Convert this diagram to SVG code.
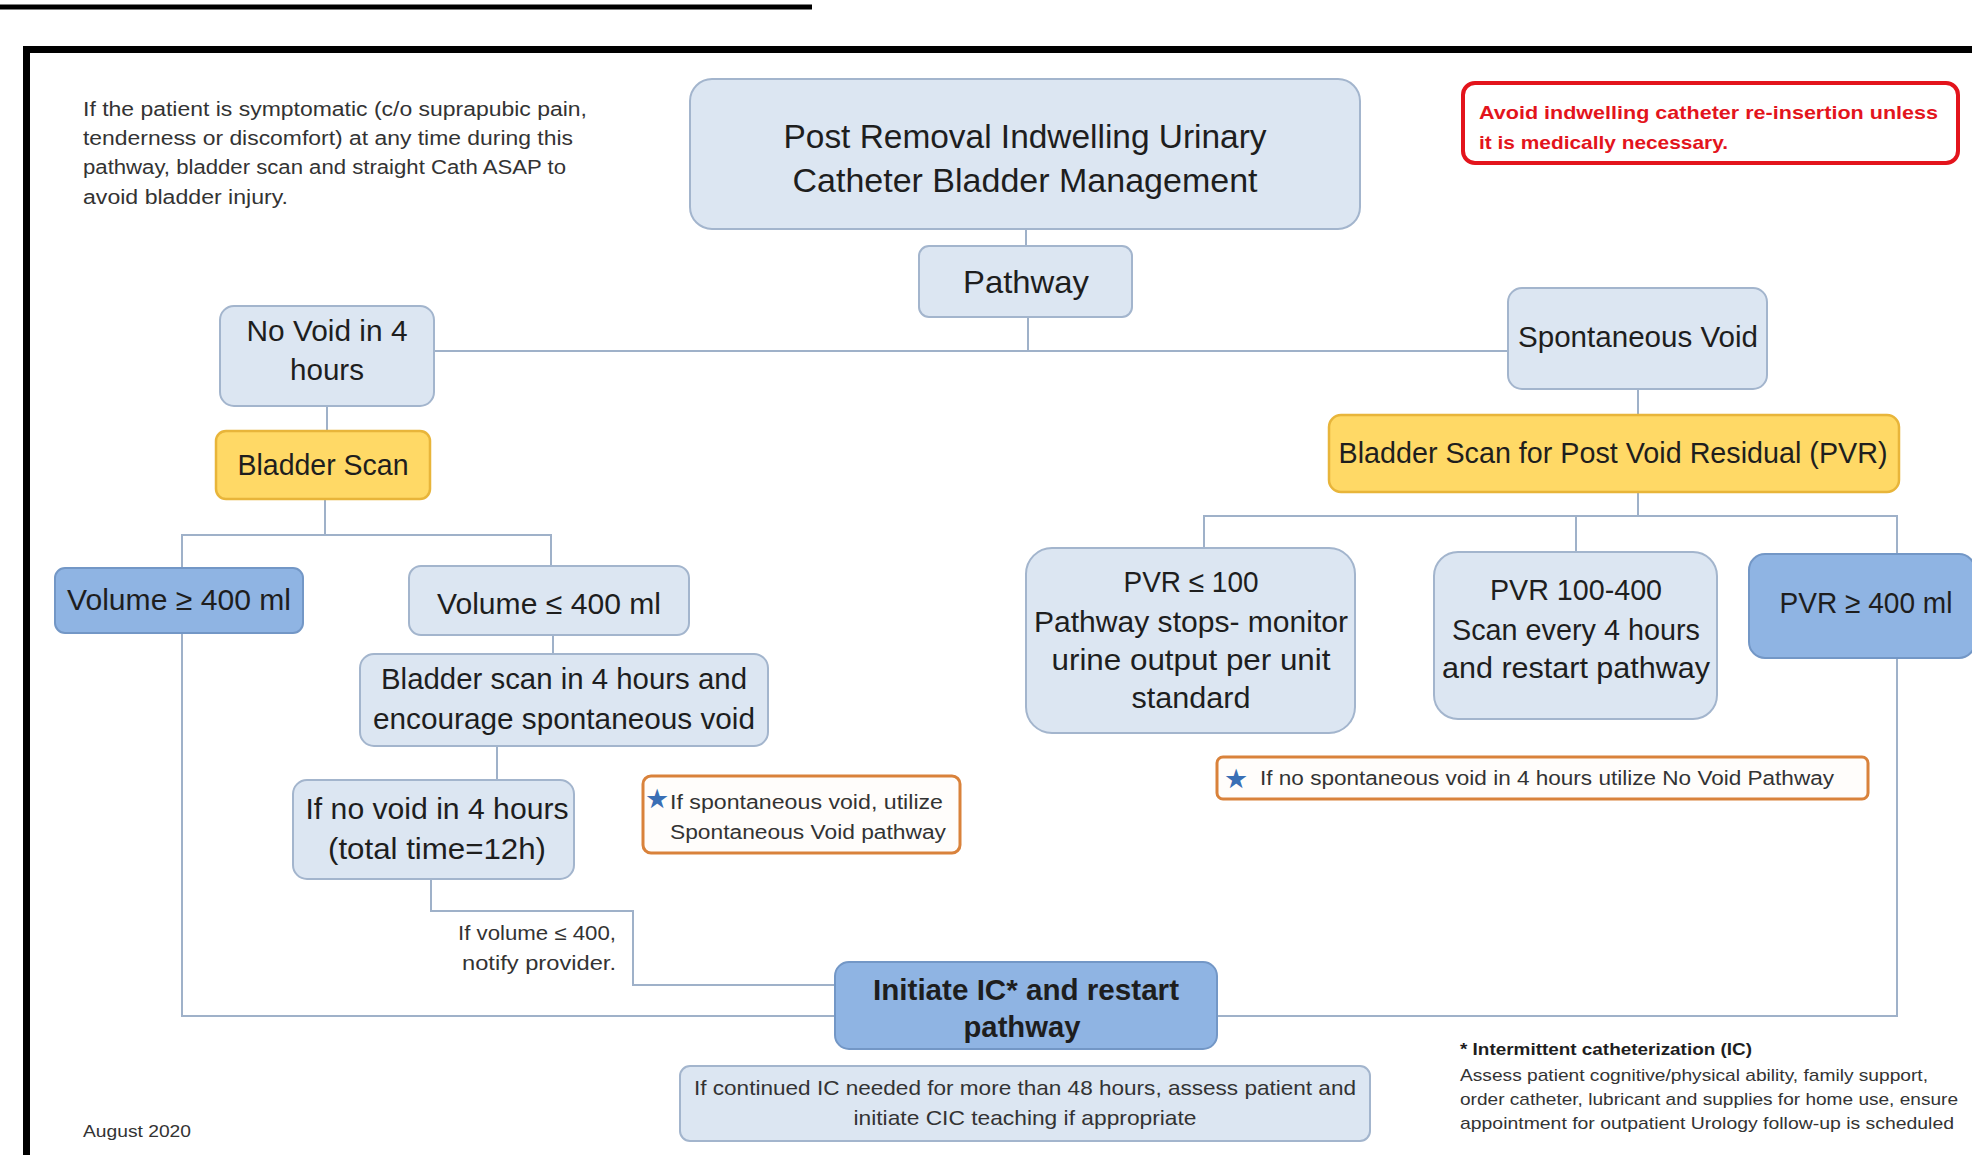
<svg xmlns="http://www.w3.org/2000/svg" width="1972" height="1155" viewBox="0 0 1972 1155">
<style>
.lb{fill:#dce6f2;stroke:#a3b5cd;stroke-width:2}
.mb{fill:#8fb4e3;stroke:#7397c6;stroke-width:2}
.gd{fill:#ffd966;stroke:#e8b53a;stroke-width:2.5}
.note{fill:#fffdfb;stroke:#d9823b;stroke-width:3}
.red{fill:#fff;stroke:#e3141c;stroke-width:4}
text{font-family:"Liberation Sans",Arial,sans-serif;fill:#1e1e1e}
.n{font-size:30px;text-anchor:middle}
.s{font-size:20px;fill:#333}
.c{stroke:#9fb1c9;stroke-width:2;fill:none}
.star{font-family:"DejaVu Sans",sans-serif;fill:#3a6fb5;font-size:27px}
</style>
<rect width="1972" height="1155" fill="#fff"/>
<line x1="0" y1="7" x2="812" y2="7" stroke="#000" stroke-width="5"/>
<rect x="26.5" y="49.5" width="2000" height="1200" fill="none" stroke="#000" stroke-width="7"/>

<g id="connectors">
<path class="c" d="M1026 229V246"/>
<path class="c" d="M1028 317V351M434 351H1508"/>
<path class="c" d="M327 406V431"/>
<path class="c" d="M325 499V535M182 568V535H551V566"/>
<path class="c" d="M553 635V654"/>
<path class="c" d="M497 746V780"/>
<path class="c" d="M431 879V911H633V985H835"/>
<path class="c" d="M182 633V1016H835"/>
<path class="c" d="M1638 389V415"/>
<path class="c" d="M1638 492V516"/>
<path class="c" d="M1217 1016H1897V516H1204V548"/>
<path class="c" d="M1576 516V552"/>
</g>

<g id="note-symptomatic">
<text class="s" x="83" y="116" textLength="504" lengthAdjust="spacingAndGlyphs">If the patient is symptomatic (c/o suprapubic pain,</text>
<text class="s" x="83" y="145" textLength="490" lengthAdjust="spacingAndGlyphs">tenderness or discomfort) at any time during this</text>
<text class="s" x="83" y="174" textLength="483" lengthAdjust="spacingAndGlyphs">pathway, bladder scan and straight Cath ASAP to</text>
<text class="s" x="83" y="204" textLength="205" lengthAdjust="spacingAndGlyphs">avoid bladder injury.</text>
</g>

<g id="title">
<rect class="lb" x="690" y="79" width="670" height="150" rx="22"/>
<text class="n" style="font-size:34px" x="1025" y="148" textLength="483" lengthAdjust="spacingAndGlyphs">Post Removal Indwelling Urinary</text>
<text class="n" style="font-size:34px" x="1025" y="192" textLength="465" lengthAdjust="spacingAndGlyphs">Catheter Bladder Management</text>
</g>

<g id="warning">
<rect class="red" x="1463" y="83" width="495" height="80" rx="12"/>
<text x="1479" y="119" style="font-size:19px;font-weight:bold;fill:#e3141c" textLength="459" lengthAdjust="spacingAndGlyphs">Avoid indwelling catheter re-insertion unless</text>
<text x="1479" y="149" style="font-size:19px;font-weight:bold;fill:#e3141c" textLength="249" lengthAdjust="spacingAndGlyphs">it is medically necessary.</text>
</g>

<g id="pathway">
<rect class="lb" x="919" y="246" width="213" height="71" rx="10"/>
<text class="n" style="font-size:32px" x="1026" y="293" textLength="126" lengthAdjust="spacingAndGlyphs">Pathway</text>
</g>

<g id="no-void">
<rect class="lb" x="220" y="306" width="214" height="100" rx="14"/>
<text class="n" x="327" y="341" textLength="161" lengthAdjust="spacingAndGlyphs">No Void in 4</text>
<text class="n" x="327" y="380" textLength="74" lengthAdjust="spacingAndGlyphs">hours</text>
</g>

<g id="spontaneous-void">
<rect class="lb" x="1508" y="288" width="259" height="101" rx="14"/>
<text class="n" x="1638" y="347" textLength="240" lengthAdjust="spacingAndGlyphs">Spontaneous Void</text>
</g>

<g id="bladder-scan">
<rect class="gd" x="216" y="431" width="214" height="68" rx="10"/>
<text class="n" x="323" y="475" textLength="171" lengthAdjust="spacingAndGlyphs">Bladder Scan</text>
</g>

<g id="bladder-scan-pvr">
<rect class="gd" x="1329" y="415" width="570" height="77" rx="12"/>
<text class="n" x="1613" y="463" textLength="549" lengthAdjust="spacingAndGlyphs">Bladder Scan for Post Void Residual (PVR)</text>
</g>

<g id="volume-ge-400">
<rect class="mb" x="55" y="568" width="248" height="65" rx="10"/>
<text class="n" x="179" y="610" textLength="224" lengthAdjust="spacingAndGlyphs">Volume ≥ 400 ml</text>
</g>

<g id="volume-le-400">
<rect class="lb" x="409" y="566" width="280" height="69" rx="12"/>
<text class="n" x="549" y="614" textLength="224" lengthAdjust="spacingAndGlyphs">Volume ≤ 400 ml</text>
</g>

<g id="scan-4-hours">
<rect class="lb" x="360" y="654" width="408" height="92" rx="14"/>
<text class="n" x="564" y="689" textLength="366" lengthAdjust="spacingAndGlyphs">Bladder scan in 4 hours and</text>
<text class="n" x="564" y="729" textLength="382" lengthAdjust="spacingAndGlyphs">encourage spontaneous void</text>
</g>

<g id="no-void-12h">
<rect class="lb" x="293" y="780" width="281" height="99" rx="14"/>
<text class="n" x="437" y="819" textLength="263" lengthAdjust="spacingAndGlyphs">If no void in 4 hours</text>
<text class="n" x="437" y="859" textLength="218" lengthAdjust="spacingAndGlyphs">(total time=12h)</text>
</g>

<g id="note-spontaneous">
<rect class="note" x="643" y="776" width="317" height="77" rx="8"/>
<text class="star" x="645" y="808">★</text>
<text class="s" x="670" y="809" textLength="273" lengthAdjust="spacingAndGlyphs">If spontaneous void, utilize</text>
<text class="s" x="670" y="839" textLength="276" lengthAdjust="spacingAndGlyphs">Spontaneous Void pathway</text>
</g>

<g id="label-notify">
<text class="s" x="616" y="940" text-anchor="end" textLength="158" lengthAdjust="spacingAndGlyphs">If volume ≤ 400,</text>
<text class="s" x="616" y="970" text-anchor="end" textLength="154" lengthAdjust="spacingAndGlyphs">notify provider.</text>
</g>

<g id="initiate-ic">
<rect class="mb" x="835" y="962" width="382" height="87" rx="14"/>
<text class="n" style="font-weight:bold" x="1026" y="1000" textLength="306" lengthAdjust="spacingAndGlyphs">Initiate IC* and restart</text>
<text class="n" style="font-weight:bold" x="1022" y="1037" textLength="117" lengthAdjust="spacingAndGlyphs">pathway</text>
</g>

<g id="pvr-le-100">
<rect class="lb" x="1026" y="548" width="329" height="185" rx="26"/>
<text class="n" x="1191" y="592" textLength="135" lengthAdjust="spacingAndGlyphs">PVR ≤ 100</text>
<text class="n" x="1191" y="632" textLength="314" lengthAdjust="spacingAndGlyphs">Pathway stops- monitor</text>
<text class="n" x="1191" y="670" textLength="279" lengthAdjust="spacingAndGlyphs">urine output per unit</text>
<text class="n" x="1191" y="708" textLength="119" lengthAdjust="spacingAndGlyphs">standard</text>
</g>

<g id="pvr-100-400">
<rect class="lb" x="1434" y="552" width="283" height="167" rx="24"/>
<text class="n" x="1576" y="600" textLength="172" lengthAdjust="spacingAndGlyphs">PVR 100-400</text>
<text class="n" x="1576" y="640" textLength="248" lengthAdjust="spacingAndGlyphs">Scan every 4 hours</text>
<text class="n" x="1576" y="678" textLength="268" lengthAdjust="spacingAndGlyphs">and restart pathway</text>
</g>

<g id="pvr-ge-400">
<rect class="mb" x="1749" y="554" width="226" height="104" rx="16"/>
<text class="n" x="1866" y="613" textLength="173" lengthAdjust="spacingAndGlyphs">PVR ≥ 400 ml</text>
</g>

<g id="note-no-void">
<rect class="note" x="1217" y="757" width="651" height="42" rx="6"/>
<text class="star" x="1224" y="788">★</text>
<text class="s" x="1260" y="785" textLength="574" lengthAdjust="spacingAndGlyphs">If no spontaneous void in 4 hours utilize No Void Pathway</text>
</g>

<g id="continued-ic">
<rect class="lb" x="680" y="1066" width="690" height="75" rx="10"/>
<text class="s" x="1025" y="1095" text-anchor="middle" style="font-size:21px" textLength="662" lengthAdjust="spacingAndGlyphs">If continued IC needed for more than 48 hours, assess patient and</text>
<text class="s" x="1025" y="1125" text-anchor="middle" style="font-size:21px" textLength="343" lengthAdjust="spacingAndGlyphs">initiate CIC teaching if appropriate</text>
</g>

<g id="footnote">
<text x="1460" y="1055" style="font-size:17px;font-weight:bold" textLength="292" lengthAdjust="spacingAndGlyphs">* Intermittent catheterization (IC)</text>
<text x="1460" y="1081" style="font-size:17px;fill:#333" textLength="468" lengthAdjust="spacingAndGlyphs">Assess patient cognitive/physical ability, family support,</text>
<text x="1460" y="1105" style="font-size:17px;fill:#333" textLength="498" lengthAdjust="spacingAndGlyphs">order catheter, lubricant and supplies for home use, ensure</text>
<text x="1460" y="1129" style="font-size:17px;fill:#333" textLength="494" lengthAdjust="spacingAndGlyphs">appointment for outpatient Urology follow-up is scheduled</text>
</g>

<g id="date">
<text x="83" y="1137" style="font-size:17px;fill:#333" textLength="108" lengthAdjust="spacingAndGlyphs">August 2020</text>
</g>
</svg>
